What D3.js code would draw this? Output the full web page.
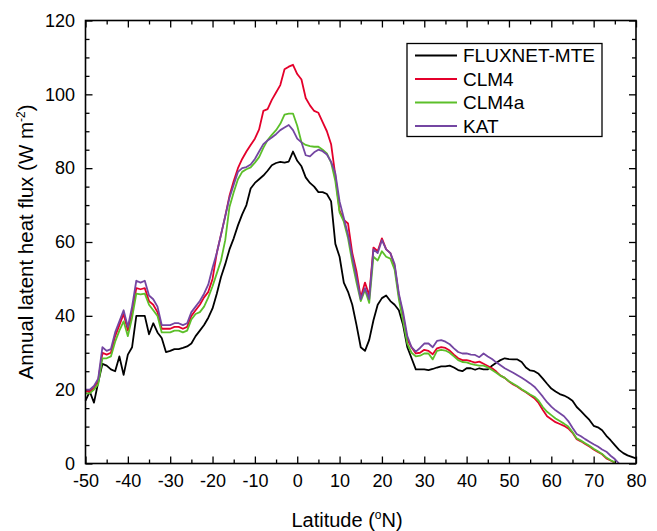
<!DOCTYPE html>
<html>
<head>
<meta charset="utf-8">
<script src="https://cdn.jsdelivr.net/npm/d3@7"></script>
<style>
  body { margin: 0; background: #fff; }
</style>
</head>
<body>
<div id="visual"></div>
<script>
// latitude grid (deg N), one value per degree
const latitude = [
  -50,-49,-48,-47,-46,-45,-44,-43,-42,-41,
  -40,-39,-38,-37,-36,-35,-34,-33,-32,-31,
  -30,-29,-28,-27,-26,-25,-24,-23,-22,-21,
  -20,-19,-18,-17,-16,-15,-14,-13,-12,-11,
  -10,-9,-8,-7,-6,-5,-4,-3,-2,-1,
  0,1,2,3,4,5,6,7,8,9,
  10,11,12,13,14,15,16,17,18,19,
  20,21,22,23,24,25,26,27,28,29,
  30,31,32,33,34,35,36,37,38,39,
  40,41,42,43,44,45,46,47,48,49,
  50,51,52,53,54,55,56,57,58,59,
  60,61,62,63,64,65,66,67,68,69,
  70,71,72,73,74,75,76,77,78,79,
  80
];

// annual latent heat flux, W m-2
const fluxnetMte = [
  17,19.5,16.5,22,27,26.5,25.5,25,29,24,
  29.5,31.5,40,40,40,35,38,35.5,34,30.2,
  30.5,31,31,31.3,31.7,32.5,34.5,36,37.5,39.5,
  42,46,50.5,54,58,61,64.5,67.5,70,74.5,
  76,77,78,79.3,80.8,81.4,81.7,81.5,81.8,84.5,
  82,80.5,77.5,76,75,73.5,73.5,73,71,59.5,
  56,49,46.5,43,37.5,31.5,30.5,33.5,38.8,43,
  44.8,45.5,44,43,41.5,37.5,31.5,28.5,25.5,25.5,
  25.5,25.3,25.6,26,26.3,26.3,26.5,26,25.3,25,
  25.8,25.8,25.4,25.8,25.5,25.5,26.5,27.3,28,28.5,
  28.3,28.2,28.2,27.5,26,25.2,25,24.3,23,21.6,
  20.3,19.5,18.8,18.4,17.8,17,15.3,14.2,13,11.8,
  10.2,9.8,9,7.5,6.3,5,3.7,2.8,2.2,1.8,
  1.4
];

const clm4 = [
  19.5,19.5,20.5,22.5,30,29.5,30,34.5,37.5,40.5,
  36,41,47.5,47.2,47.5,44,43,41,36.5,36.5,
  36.5,37,37,36.5,37,40,41.5,43,45,46.5,
  50,57,62,67,72.5,76.5,80,82.5,84.5,86.3,
  88,90.5,95.5,96,98.5,100.5,102.5,106.8,107.5,108,
  105.5,104,99,97,95.5,95,92.5,90,86.5,78,
  68.5,66,65,57,52,45,49,45.5,58.5,57.5,
  61,58,57,53.5,45.5,40,33.5,31.5,29.8,30,
  30.8,30.5,29.6,31.2,31.5,31.3,30.6,29.5,28.5,28,
  28,27.7,27.3,27.6,27,26.4,25.8,24.9,23.8,23.2,
  22.2,21.4,20.8,20,19.3,18.5,17.7,16.4,14.5,12.8,
  12,11.2,10.7,10.2,9.5,8.3,6.6,6,5.3,4.6,
  3.8,3.1,2.5,1.4,0.8,0.2,null,null,null,null,
  null
];

const clm4a = [
  19,19,20,21.5,28.5,28.5,29,33,36,38.5,
  34.5,39.5,46,45.8,46,43,41.5,40,35.5,35.5,
  35.5,36,36,35.5,36,39,40.5,41,42.5,45,
  48,51.5,55,60.5,69.5,73.5,77,79,79.7,80.2,
  81.5,83,85.5,87.6,89,90.3,92,94.5,94.8,94.8,
  91.5,87,86.3,86,85.8,85.8,85,84,81.5,76.5,
  68,65.5,61,54.5,49,44,47,43.5,56,55,
  57.5,56,55.5,52.5,44.5,38.5,32.5,30,29,29.2,
  29.8,29.8,28.2,30.5,30.8,30.6,30,29,28,27.5,
  27.4,27,26.7,26.5,26.5,26,25.3,24.6,23.8,23.2,
  22.3,21.6,20.9,20.1,19.4,18.7,18.1,17,15.3,14,
  13.1,12.2,11.5,10.8,10,8.5,6.8,6.2,5.5,4.8,
  4,3.3,2.6,1.6,0.9,0.3,null,null,null,null,
  null
];

const kat = [
  20,20,21,23,31.5,30.5,31,35.5,38.5,41.5,
  37,42.5,49.5,49,49.5,45.5,44.5,42.5,37.5,37.5,
  37.5,38,38,37.5,38,41,42.5,44,46,48.5,
  53,57,62,67,72,75.5,79,80,80.3,81,
  82.5,84.5,86.5,87.5,88.3,89.2,90.3,91,91.7,90.3,
  88,87,83.5,83.2,84.3,85,84.6,83.7,81.7,78.6,
  71,66.5,62,56,50.5,44.5,47.5,44.5,58,57,
  60.5,58,57,54,46,41,34.5,31.5,30.3,31.3,
  32.5,32.5,31.5,33.2,33.4,33,32.3,31.2,30.2,29.8,
  29.8,29.5,29.4,28.8,29.8,29,28.3,27.4,26.6,25.8,
  25.2,24.6,23.9,23.2,22.5,21.7,20.8,19.5,18.1,16.6,
  15.4,14.4,13.6,12.8,11.5,9.7,8,7.4,6.6,5.9,
  5.2,4.6,3.8,3.2,2.1,1.2,0,null,null,null,
  null
];

const seriesNames = ["FLUXNET-MTE", "CLM4", "CLM4a", "KAT"];
const xTicks = [-50, -40, -30, -20, -10, 0, 10, 20, 30, 40, 50, 60, 70, 80];
const xMinorTicks = [-45, -35, -25, -15, -5, 5, 15, 25, 35, 45, 55, 65, 75];
const yTicks = [0, 20, 40, 60, 80, 100, 120];
const yMinorTicks = [5, 10, 15, 25, 30, 35, 45, 50, 55, 65, 70, 75, 85, 90, 95, 105, 110, 115];

const COLORS = ["#000000", "#e4002b", "#5cbf2a", "#7446a2"];
const FONT = "Liberation Sans, Arial, Helvetica, sans-serif";

let width = 657, height = 531;
let margin = {top: 20.5, right: 21, bottom: 67.5, left: 85.5};
let plotW = width - margin.left - margin.right,
    plotH = height - margin.top - margin.bottom;

let svg = d3.select("#visual")
    .append("svg")
    .attr("width", width)
    .attr("height", height)
    .style("font-family", FONT);

let x = d3.scaleLinear().domain([-50, 80]).range([margin.left, margin.left + plotW]);
let y = d3.scaleLinear().domain([0, 120]).range([margin.top + plotH, margin.top]);

// plain hyphen for negatives, like the original
let plainFormat = d => String(d);

// axes: ticks point inward on all four sides
function styleAxis(g) {
    g.select(".domain").remove();
    g.selectAll("line").attr("stroke", "#000").attr("stroke-width", 1.3);
    g.selectAll("text").style("font-size", "18px").style("font-family", FONT).attr("fill", "#000");
}

svg.append("g")
    .attr("transform", "translate(0," + y(0) + ")")
    .call(d3.axisBottom(x).tickValues(xTicks).tickSize(-7).tickPadding(10.5).tickFormat(plainFormat))
    .call(styleAxis);
svg.append("g")
    .attr("transform", "translate(0," + y(0) + ")")
    .call(d3.axisBottom(x).tickValues(xMinorTicks).tickSize(-4).tickFormat(""))
    .call(styleAxis);
svg.append("g")
    .attr("transform", "translate(0," + y(120) + ")")
    .call(d3.axisTop(x).tickValues(xTicks).tickSize(-7).tickFormat(""))
    .call(styleAxis);
svg.append("g")
    .attr("transform", "translate(0," + y(120) + ")")
    .call(d3.axisTop(x).tickValues(xMinorTicks).tickSize(-4).tickFormat(""))
    .call(styleAxis);

svg.append("g")
    .attr("transform", "translate(" + x(-50) + ",0)")
    .call(d3.axisLeft(y).tickValues(yTicks).tickSize(-7).tickPadding(10.5).tickFormat(plainFormat))
    .call(styleAxis);
svg.append("g")
    .attr("transform", "translate(" + x(-50) + ",0)")
    .call(d3.axisLeft(y).tickValues(yMinorTicks).tickSize(-4).tickFormat(""))
    .call(styleAxis);
svg.append("g")
    .attr("transform", "translate(" + x(80) + ",0)")
    .call(d3.axisRight(y).tickValues(yTicks).tickSize(-7).tickFormat(""))
    .call(styleAxis);
svg.append("g")
    .attr("transform", "translate(" + x(80) + ",0)")
    .call(d3.axisRight(y).tickValues(yMinorTicks).tickSize(-4).tickFormat(""))
    .call(styleAxis);

// lines
let series = [fluxnetMte, clm4, clm4a, kat];
let line = d3.line()
    .defined(d => d != null)
    .x((d, i) => x(latitude[i]))
    .y(d => y(d));

series.forEach(function (values, k) {
    svg.append("path")
        .datum(values)
        .attr("fill", "none")
        .attr("stroke", COLORS[k])
        .attr("stroke-width", 1.8)
        .attr("stroke-linejoin", "round")
        .attr("d", line);
});

// plot frame
svg.append("rect")
    .attr("x", x(-50))
    .attr("y", y(120))
    .attr("width", x(80) - x(-50))
    .attr("height", y(0) - y(120))
    .attr("fill", "none")
    .attr("stroke", "#000")
    .attr("stroke-width", 1.6);

// axis titles
let xTitle = svg.append("text")
    .attr("x", 347)
    .attr("y", 527)
    .attr("text-anchor", "middle")
    .style("font-size", "20px")
    .text("Latitude (");
xTitle.append("tspan").attr("dy", -8).style("font-size", "12px").text("o");
xTitle.append("tspan").attr("dy", 8).text("N)");

let yTitle = svg.append("text")
    .attr("transform", "translate(33," + (margin.top + plotH / 2) + ")rotate(-90)")
    .attr("text-anchor", "middle")
    .style("font-size", "20.5px")
    .text("Annual latent heat flux (W m");
yTitle.append("tspan").attr("dy", -8).style("font-size", "12px").text("-2");
yTitle.append("tspan").attr("dy", 8).text(")");

// legend
let legend = svg.append("g").attr("transform", "translate(407,43.5)");
legend.append("rect")
    .attr("width", 195)
    .attr("height", 93)
    .attr("fill", "#fff")
    .attr("stroke", "#000")
    .attr("stroke-width", 1.3);

let item = legend.selectAll(".item")
    .data(seriesNames)
    .enter().append("g")
    .attr("class", "item")
    .attr("transform", (d, i) => "translate(0," + (12 + i * 23.5) + ")");
item.append("line")
    .attr("x1", 8).attr("x2", 50)
    .attr("stroke", (d, i) => COLORS[i])
    .attr("stroke-width", 1.8);
item.append("text")
    .attr("x", 56)
    .attr("dy", "0.35em")
    .style("font-size", "19px")
    .text(d => d);
</script>
</body>
</html>
